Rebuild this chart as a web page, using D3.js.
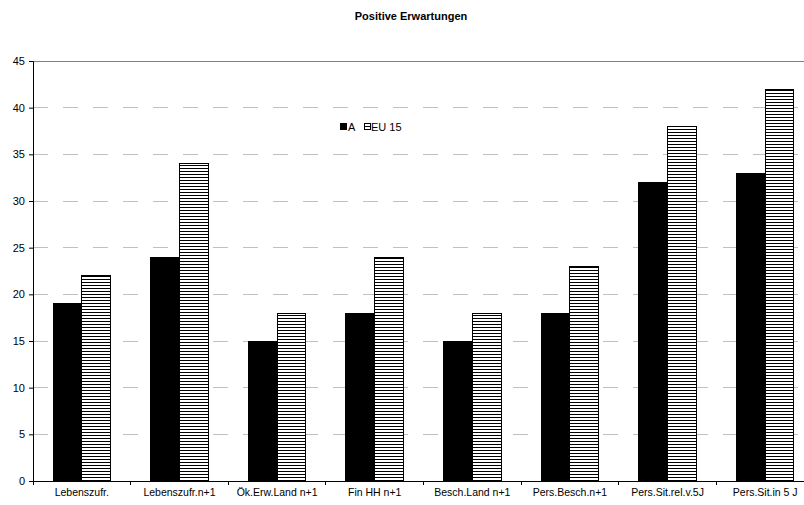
<!DOCTYPE html>
<html>
<head>
<meta charset="utf-8">
<script src="https://cdn.jsdelivr.net/npm/d3@7"></script>
<style>
  html, body { margin: 0; padding: 0; background: #fff; overflow: hidden; }
  svg { display: block; font-family: "Liberation Sans", Arial, sans-serif; }
</style>
</head>
<body>
<svg id="chart" width="804" height="505"></svg>
<script>
// Kategorien und Werte
const categories = ["Lebenszufr.", "Lebenszufr.n+1", "Ök.Erw.Land n+1", "Fin HH n+1",
  "Besch.Land n+1", "Pers.Besch.n+1", "Pers.Sit.rel.v.5J", "Pers.Sit.in 5 J"];
const seriesNames = ["A", "EU 15"];
const valuesA = [19, 24, 15, 18, 15, 18, 32, 33];
const valuesEU15 = [22, 34, 18, 24, 18, 23, 38, 42];
const yTicks = [0, 5, 10, 15, 20, 25, 30, 35, 40, 45];

const svg = d3.select("#chart");
const plotLeft = 33, plotTop = 61, plotBottom = 481, plotRight = 814;

// Schraffur für EU 15
const defs = svg.append("defs");
const pat = defs.append("pattern")
  .attr("id", "hatch").attr("patternUnits", "userSpaceOnUse")
  .attr("width", 6).attr("height", 3);
pat.append("rect").attr("width", 6).attr("height", 3).attr("fill", "#fff");
pat.append("rect").attr("y", 0).attr("width", 6).attr("height", 1).attr("fill", "#000");

const x = d3.scaleBand().domain(categories).range([plotLeft, plotRight]).paddingInner(0.41).paddingOuter(0.205);
const xSub = d3.scaleBand().domain(seriesNames).range([0, x.bandwidth()]);
const y = d3.scaleLinear().domain([0, 45]).range([plotBottom, plotTop]);

// Titel
svg.append("text").attr("x", 411).attr("y", 20).attr("text-anchor", "middle")
  .attr("font-size", 11).attr("font-weight", "bold").text("Positive Erwartungen");

// Gitterlinien
svg.append("g").selectAll("line").data(yTicks.filter(t => t > 0 && t < 45)).join("line")
  .attr("x1", plotLeft).attr("x2", plotRight).attr("y1", d => y(d)).attr("y2", d => y(d))
  .attr("stroke", "#c0c0c0").attr("stroke-width", 1).attr("stroke-dasharray", "15,15")
  .attr("shape-rendering", "crispEdges");
svg.append("line").attr("x1", plotLeft).attr("x2", plotRight).attr("y1", y(45)).attr("y2", y(45))
  .attr("stroke", "#808080").attr("shape-rendering", "crispEdges");

// Balken
const groups = svg.append("g").selectAll("g").data(categories).join("g")
  .attr("transform", d => `translate(${x(d)},0)`);
groups.append("rect")
  .attr("x", xSub("A")).attr("width", xSub.bandwidth())
  .attr("y", (d, i) => y(valuesA[i])).attr("height", (d, i) => y(0) - y(valuesA[i]))
  .attr("fill", "#000").attr("stroke", "#000").attr("shape-rendering", "crispEdges");
groups.append("rect")
  .attr("x", xSub("EU 15")).attr("width", xSub.bandwidth())
  .attr("y", (d, i) => y(valuesEU15[i])).attr("height", (d, i) => y(0) - y(valuesEU15[i]))
  .attr("fill", "url(#hatch)").attr("stroke", "#000").attr("shape-rendering", "crispEdges");

// Y-Achse
const yAxis = svg.append("g").attr("transform", `translate(${plotLeft},0)`)
  .call(d3.axisLeft(y).tickValues(yTicks).tickSize(4).tickPadding(4));
yAxis.select(".domain").attr("stroke", "#000");
yAxis.selectAll("text").attr("font-size", 11).attr("fill", "#000")
  .attr("font-family", "Liberation Sans, Arial, sans-serif");

// X-Achse
const xAxisG = svg.append("g").attr("transform", `translate(0,${plotBottom})`);
xAxisG.append("line").attr("x1", plotLeft).attr("x2", plotRight).attr("stroke", "#000")
  .attr("shape-rendering", "crispEdges");
const step = x.step();
xAxisG.selectAll("line.tk").data(d3.range(categories.length + 1)).join("line")
  .attr("class", "tk")
  .attr("x1", i => plotLeft + i * step).attr("x2", i => plotLeft + i * step)
  .attr("y1", 0).attr("y2", 4).attr("stroke", "#000").attr("shape-rendering", "crispEdges");
xAxisG.selectAll("text").data(categories).join("text")
  .attr("x", d => x(d) + x.bandwidth() / 2).attr("y", 15)
  .attr("text-anchor", "middle").attr("font-size", 10.5).text(d => d);

// Legende
const lg = svg.append("g").attr("transform", "translate(340,123)");
lg.append("rect").attr("x", 0).attr("y", 0).attr("width", 7).attr("height", 7).attr("fill", "#000");
lg.append("text").attr("x", 8).attr("y", 8).attr("font-size", 11).text("A");
lg.append("rect").attr("x", 24.5).attr("y", 0.5).attr("width", 6).attr("height", 6)
  .attr("fill", "url(#hatch)").attr("stroke", "#000");
lg.append("text").attr("x", 31).attr("y", 8).attr("font-size", 11).text("EU 15");
</script>
</body>
</html>
